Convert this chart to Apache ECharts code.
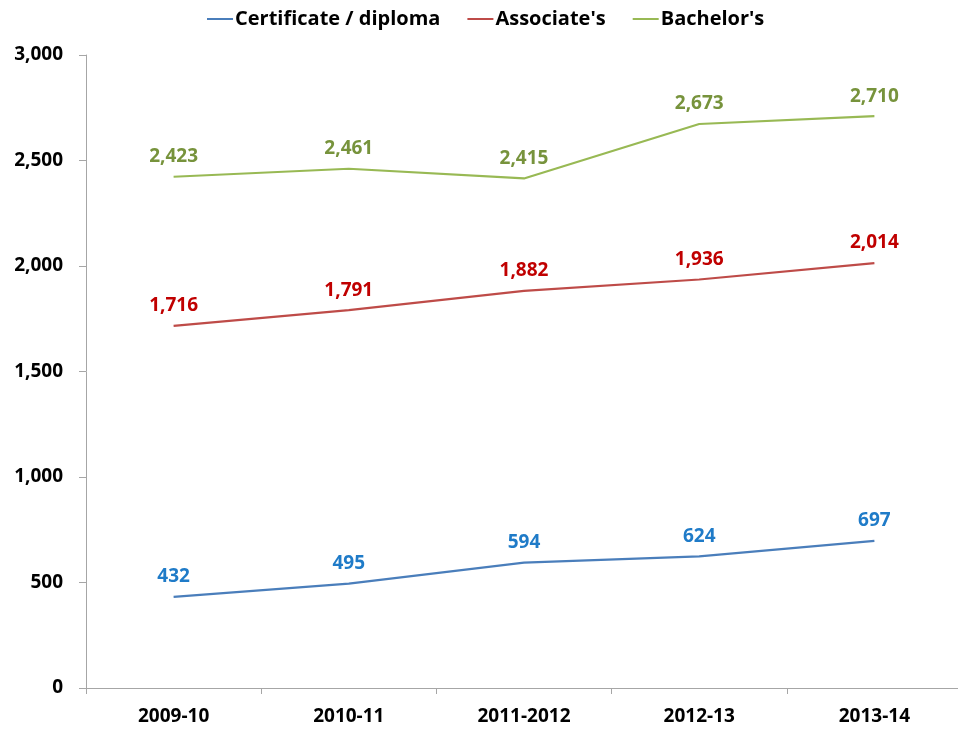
<!DOCTYPE html>
<html><head><meta charset="utf-8">
<script src="https://cdn.jsdelivr.net/npm/echarts@6/dist/echarts.min.js"></script>
<style>html,body{margin:0;padding:0;background:#fff;overflow:hidden;width:958px;height:731px}#c{width:964px;height:731px}</style>
</head><body><div id="c"></div>
<script>
var categories = ['2009-10', '2010-11', '2011-2012', '2012-13', '2013-14'];
var certificate = [432, 495, 594, 624, 697];
var associates = [1716, 1791, 1882, 1936, 2014];
var bachelors = [2423, 2461, 2415, 2673, 2710];
var seriesNames = ['Certificate / diploma', "Associate's", "Bachelor's"];
var lineColors = ['#4A7EBB', '#BE4B48', '#98B954'];
var labelColors = ['#1F7BC8', '#C00000', '#77933C'];

var FONT = '"Open Sans", "Noto Sans", sans-serif';
function fmt(v){ return v.toLocaleString('en-US'); }
function mk(i, data){
  return {
    name: seriesNames[i], type: 'line', data: data, symbol: 'circle', symbolSize: 1, showSymbol: true,
    lineStyle: {color: lineColors[i], width: 2.2},
    itemStyle: {color: 'rgba(0,0,0,0)', borderWidth: 0},
    label: {show: true, position: 'top', distance: 10, color: labelColors[i],
      fontFamily: FONT, fontWeight: 'bold', fontSize: 19,
      formatter: function(p){ return fmt(p.value); }}
  };
}
var chart = echarts.init(document.getElementById('c'));
chart.setOption({
  animation: false,
  legend: {top: 4, left: 202, itemWidth: 26, itemHeight: 2, itemGap: 27,
    icon: 'rect',
    textStyle: {fontFamily: FONT, fontWeight: 'bold', fontSize: 20, color: '#000', padding: [0,0,0,-3]},
    data: seriesNames.map(function(n, i){ return {name: n, itemStyle: {color: lineColors[i]}}; })},
  grid: {left: 86, top: 55, width: 876, bottom: 43, containLabel: false},
  xAxis: {type: 'category', data: categories, boundaryGap: true,
    axisLine: {lineStyle: {color: '#A6A6A6'}},
    axisTick: {show: true, length: 6, lineStyle: {color: '#A6A6A6'}},
    axisLabel: {margin: 19, color: '#000', fontFamily: FONT, fontWeight: 'bold', fontSize: 19}},
  yAxis: {type: 'value', min: 0, max: 3000, interval: 500,
    axisLine: {show: true, lineStyle: {color: '#A6A6A6'}},
    axisTick: {show: true, length: 7, lineStyle: {color: '#A6A6A6'}},
    splitLine: {show: false},
    axisLabel: {margin: 23, color: '#000', fontFamily: FONT, fontWeight: 'bold', fontSize: 19,
      formatter: function(v){ return fmt(v); }}},
  series: [
    mk(0, certificate),
    mk(1, associates),
    mk(2, bachelors)
  ]
});
</script></body></html>
